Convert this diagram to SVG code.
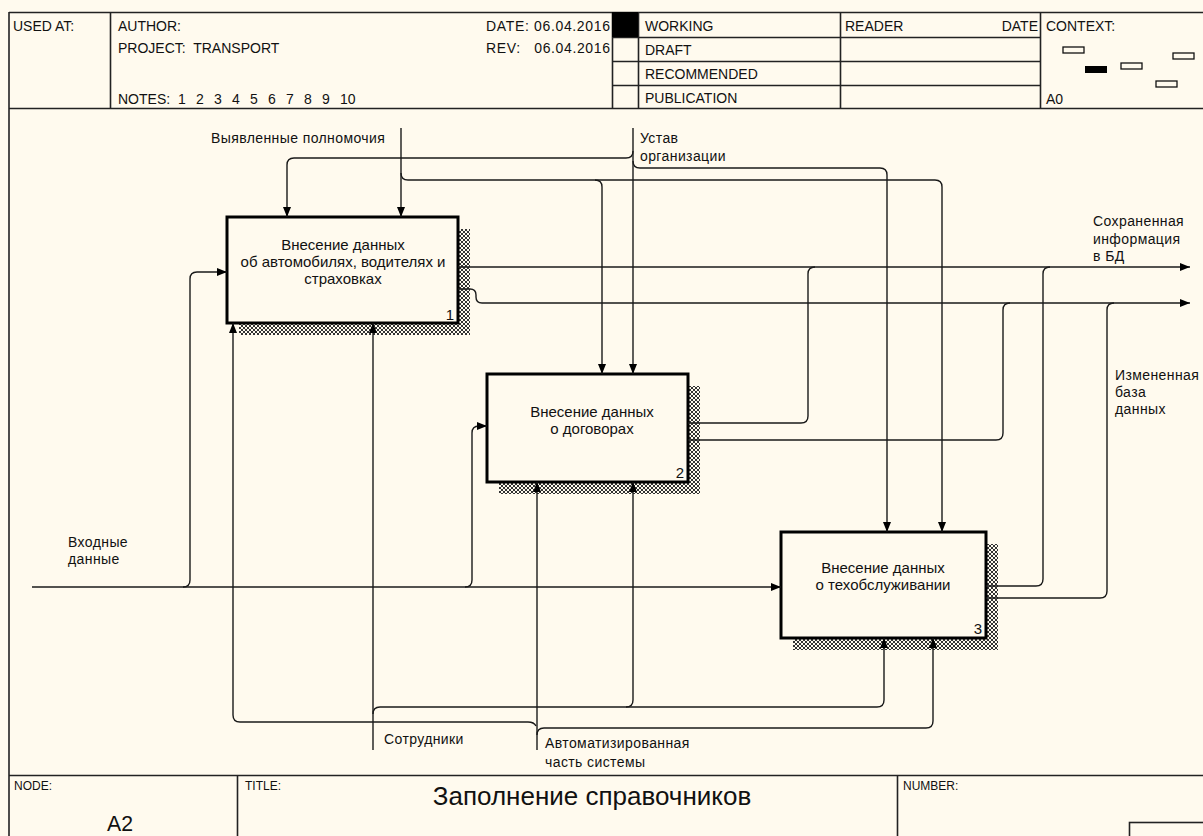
<svg xmlns="http://www.w3.org/2000/svg" width="1203" height="836" viewBox="0 0 1203 836">
  <style>
    .frame { fill: none; stroke: #222; stroke-width: 1.6; }
    .hdr { font-family: "Liberation Sans", Arial, sans-serif; font-size: 14px; fill: #111; white-space: pre; }
    .ftr { font-family: "Liberation Sans", Arial, sans-serif; font-size: 12px; fill: #111; }
    .lbl { font-family: "Liberation Sans", Arial, sans-serif; font-size: 14px; letter-spacing: 0.4px; fill: #111; }
    .box { fill: #fffaee; stroke: #000; stroke-width: 3; }
    .btxt { font-family: "Liberation Sans", Arial, sans-serif; font-size: 15px; fill: #111; text-anchor: middle; }
    .num { font-family: "Liberation Sans", Arial, sans-serif; font-size: 15px; fill: #111; text-anchor: end; }
    .arc { fill: none; stroke: #1a1a1a; stroke-width: 1.4; }
    .arr { marker-end: url(#head); }
    .ctx { fill: none; stroke: #111; stroke-width: 1.3; }
  </style>
  <defs>
    <marker id="head" viewBox="0 0 10 8" refX="10" refY="4" markerWidth="10" markerHeight="8" markerUnits="userSpaceOnUse" orient="auto">
      <path d="M0,0 L10,4 L0,8 z" fill="#000"/>
    </marker>
    <pattern id="hatch" width="4" height="4" patternUnits="userSpaceOnUse">
      <rect width="4" height="4" fill="#fffaee"/>
      <path d="M0,0 L4,4 M4,0 L0,4" stroke="#333" stroke-width="1"/>
    </pattern>
  </defs>

  <rect width="1203" height="836" fill="#fffaee"/>

  <!-- header block -->
  <g id="header">
    <path class="frame" d="M9,12.5 H1203 M9,108.5 H1203 M9,12 V836 M110.5,12 V108 M612.5,12 V108 M638.5,12 V108 M840.5,12 V108 M1040.5,12 V108 M612,37.5 H1040 M612,61.5 H1040 M612,85.5 H1040"/>
    <rect x="612" y="12" width="26" height="25" fill="#000"/>
    <text class="hdr" x="13" y="31">USED AT:</text>
    <text class="hdr" x="118" y="31">AUTHOR:</text>
    <text class="hdr" x="118" y="53" xml:space="preserve">PROJECT:  TRANSPORT</text>
    <text class="hdr" x="118" y="104">NOTES:</text>
    <g class="hdr">
      <text x="178" y="104">1</text><text x="196" y="104">2</text><text x="214" y="104">3</text>
      <text x="232" y="104">4</text><text x="250" y="104">5</text><text x="268" y="104">6</text>
      <text x="286" y="104">7</text><text x="304" y="104">8</text><text x="322" y="104">9</text>
      <text x="340" y="104">10</text>
    </g>
    <text class="hdr" x="486" y="31" textLength="124" lengthAdjust="spacing">DATE: 06.04.2016</text>
    <text class="hdr" x="486" y="53" textLength="124" lengthAdjust="spacing" xml:space="preserve">REV:   06.04.2016</text>
    <text class="hdr" x="645" y="31">WORKING</text>
    <text class="hdr" x="645" y="55">DRAFT</text>
    <text class="hdr" x="645" y="79">RECOMMENDED</text>
    <text class="hdr" x="645" y="103">PUBLICATION</text>
    <text class="hdr" x="845" y="31">READER</text>
    <text class="hdr" x="1038" y="31" text-anchor="end">DATE</text>
    <text class="hdr" x="1046" y="31">CONTEXT:</text>
    <text class="hdr" x="1046" y="104">A0</text>
    <rect class="ctx" x="1063" y="47" width="21" height="6"/>
    <rect class="ctx" x="1173" y="53" width="21" height="6"/>
    <rect x="1085" y="66" width="22" height="7" fill="#000"/>
    <rect class="ctx" x="1121" y="63" width="21" height="6"/>
    <rect class="ctx" x="1156" y="81" width="21" height="6"/>
  </g>

  <!-- activity boxes -->
  <g id="box1">
    <rect x="239" y="229" width="231" height="106" fill="url(#hatch)"/>
    <rect class="box" x="227" y="217" width="231" height="106"/>
    <text class="btxt" x="343" y="250">Внесение данных</text>
    <text class="btxt" x="343" y="267">об автомобилях, водителях и</text>
    <text class="btxt" x="343" y="284">страховках</text>
    <text class="num" x="454" y="320">1</text>
  </g>
  <g id="box2">
    <rect x="499" y="386" width="201" height="108" fill="url(#hatch)"/>
    <rect class="box" x="487" y="374" width="201" height="108"/>
    <text class="btxt" x="592" y="417">Внесение данных</text>
    <text class="btxt" x="592" y="434">о договорах</text>
    <text class="num" x="684" y="478">2</text>
  </g>
  <g id="box3">
    <rect x="793" y="544" width="205" height="106" fill="url(#hatch)"/>
    <rect class="box" x="781" y="532" width="205" height="106"/>
    <text class="btxt" x="883" y="573">Внесение данных</text>
    <text class="btxt" x="883" y="590">о техобслуживании</text>
    <text class="num" x="982" y="634">3</text>
  </g>

  <!-- arrows -->
  <g id="connectors">
    <!-- inputs -->
    <path class="arc arr" d="M32,587 H781"/>
    <path class="arc arr" d="M183,587 Q190,587 190,580 V279 Q190,272 197,272 H227"/>
    <path class="arc arr" d="M465,587 Q472,587 472,580 V433 Q472,426 479,426 H487"/>
    <!-- controls -->
    <path class="arc arr" d="M401,128 V217"/>
    <path class="arc arr" d="M401,173 Q401,180 408,180 H935 Q942,180 942,187 V532"/>
    <path class="arc arr" d="M595,180 Q602,180 602,187 V374"/>
    <path class="arc arr" d="M633,128 V374"/>
    <path class="arc arr" d="M633,151 Q633,158 626,158 H294 Q287,158 287,165 V217"/>
    <path class="arc arr" d="M633,161 Q633,168 640,168 H880 Q887,168 887,175 V532"/>
    <!-- outputs -->
    <path class="arc arr" d="M458,267 H1190"/>
    <path class="arc arr" d="M458,289 H470 Q476,289 476,295 V297 Q476,303 482,303 H1190"/>
    <path class="arc" d="M688,423 H801 Q808,423 808,416 V274 Q808,267 815,267"/>
    <path class="arc" d="M688,440 H996 Q1003,440 1003,433 V310 Q1003,303 1010,303"/>
    <path class="arc" d="M986,586 H1036 Q1043,586 1043,579 V274 Q1043,267 1050,267"/>
    <path class="arc" d="M986,598 H1100 Q1107,598 1107,591 V310 Q1107,303 1114,303"/>
    <!-- mechanisms -->
    <path class="arc arr" d="M373,750 V323"/>
    <path class="arc arr" d="M373,714 Q373,707 380,707 H877 Q884,707 884,700 V638"/>
    <path class="arc arr" d="M626,707 Q633,707 633,700 V482"/>
    <path class="arc arr" d="M537,750 V482"/>
    <path class="arc arr" d="M536,726 Q534,722 528,722 H240 Q233,722 233,715 V323"/>
    <path class="arc arr" d="M537,735 Q537,728 544,728 H926 Q933,728 933,721 V638"/>
  </g>

  <!-- arrow labels -->
  <g id="labels">
    <text class="lbl" x="211" y="143">Выявленные полномочия</text>
    <text class="lbl" x="640" y="143">Устав</text>
    <text class="lbl" x="640" y="161">организации</text>
    <text class="lbl" x="1093" y="226">Сохраненная</text>
    <text class="lbl" x="1093" y="244">информация</text>
    <text class="lbl" x="1093" y="261">в БД</text>
    <text class="lbl" x="1115" y="380">Измененная</text>
    <text class="lbl" x="1115" y="397">база</text>
    <text class="lbl" x="1115" y="414">данных</text>
    <text class="lbl" x="68" y="547">Входные</text>
    <text class="lbl" x="68" y="564">данные</text>
    <text class="lbl" x="384" y="744">Сотрудники</text>
    <text class="lbl" x="545" y="748">Автоматизированная</text>
    <text class="lbl" x="545" y="767">часть системы</text>
  </g>

  <!-- footer block -->
  <g id="footer">
    <path class="frame" d="M9,775.5 H1203 M237.5,775 V836 M897.5,775 V836"/>
    <rect class="frame" x="1129.5" y="822.5" width="80" height="30"/>
    <text class="ftr" x="14" y="790">NODE:</text>
    <text class="ftr" x="245" y="790">TITLE:</text>
    <text class="ftr" x="903" y="790">NUMBER:</text>
    <text x="120" y="831" text-anchor="middle" font-family="Liberation Sans, Arial, sans-serif" font-size="22" textLength="26" lengthAdjust="spacingAndGlyphs" fill="#111">A2</text>
    <text x="592" y="805" text-anchor="middle" font-family="Liberation Sans, Arial, sans-serif" font-size="26" fill="#111">Заполнение справочников</text>
  </g>
</svg>
